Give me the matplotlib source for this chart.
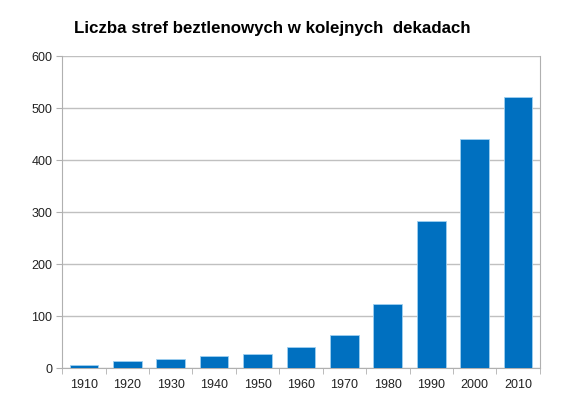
import matplotlib
matplotlib.use("Agg")
import matplotlib.pyplot as plt
import numpy as np

plt.rcParams['font.family'] = ['Liberation Sans', 'DejaVu Sans']

decades = ['1910', '1920', '1930', '1940', '1950', '1960',
           '1970', '1980', '1990', '2000', '2010']
counts = [6, 13, 17, 23, 27, 40, 64, 124, 282, 440, 522]

fig = plt.figure(figsize=(5.7, 4.09), dpi=100)
ax = fig.add_axes([0.109, 0.100, 0.838, 0.763])

x = np.arange(len(decades))
ax.bar(x, counts, width=0.66, color='#0070c0', edgecolor='#9fd0f0',
       linewidth=0.6, zorder=3)

ax.set_xlim(-0.5, len(decades) - 0.5)
ax.set_ylim(0, 600)
ax.set_yticks(range(0, 601, 100))
ax.set_xticks(x)
ax.set_xticklabels(decades)
ax.set_xticks(np.arange(-0.5, len(decades), 1), minor=True)

ax.grid(axis='y', color='#c0c0c0', linewidth=1, zorder=0)
for s in ['left', 'right', 'bottom']:
    ax.spines[s].set_color('#b0b0b0')
ax.spines['top'].set_visible(False)

ax.tick_params(axis='x', which='major', length=0, pad=8, labelsize=9,
               colors='#222222')
ax.tick_params(axis='x', which='minor', length=4, color='#b0b0b0')
ax.tick_params(axis='y', length=4, color='#b0b0b0', labelsize=9,
               labelcolor='#222222', pad=3)

fig.text(0.477, 0.93, 'Liczba stref beztlenowych w kolejnych  dekadach',
         ha='center', va='center', fontsize=12.2, fontweight='bold')

fig.savefig('out.png', dpi=100)
